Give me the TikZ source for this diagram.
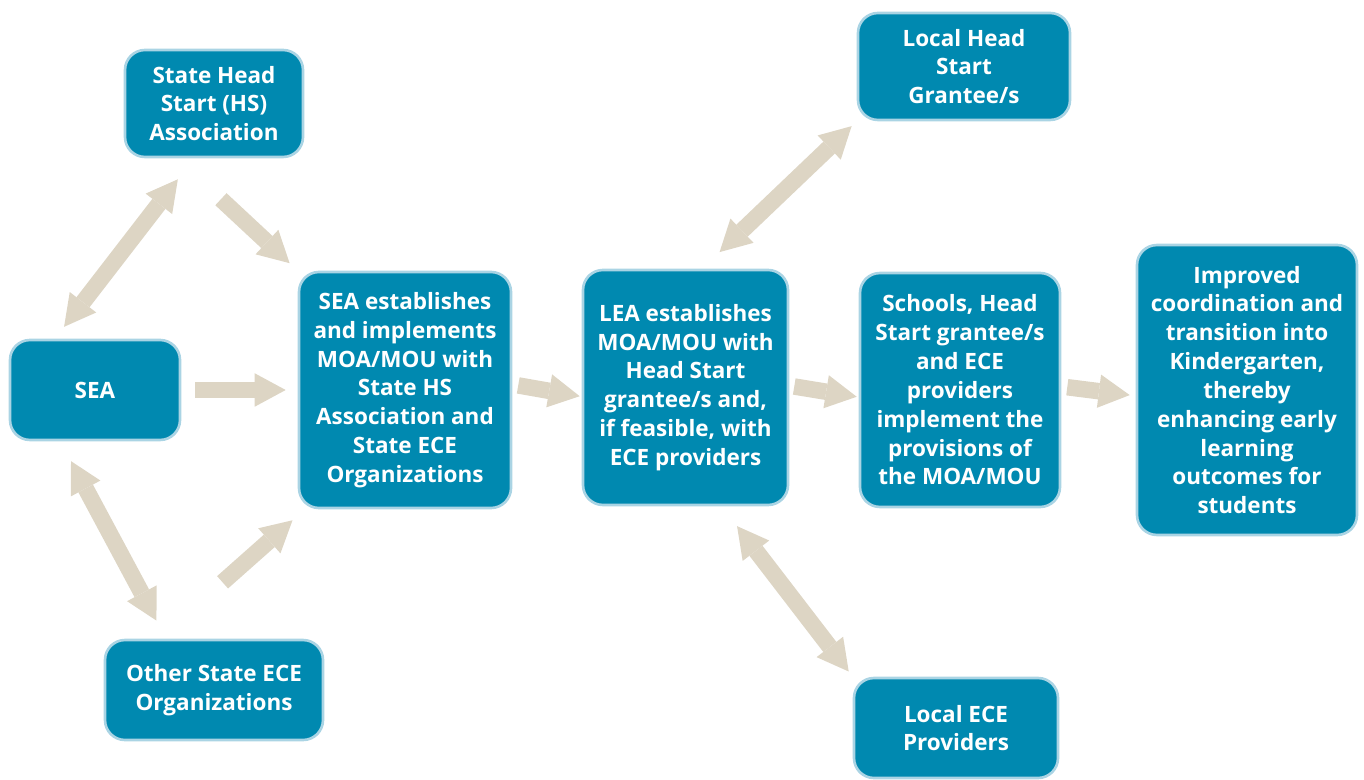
\documentclass[tikz,border=0pt]{standalone}
\usepackage{fontspec}
\setmainfont{Open Sans}
\usetikzlibrary{arrows.meta}

\definecolor{boxblue}{RGB}{0,137,176}
\definecolor{boxedge}{RGB}{170,212,228}
\definecolor{beige}{RGB}{221,213,196}

\tikzset{
  box/.style={rectangle, rounded corners=0.4cm, fill=boxblue, draw=boxedge,
    line width=1.5pt, text=white, align=center, inner sep=2pt,
    font=\bfseries\fontsize{12.8}{16.4}\selectfont},
  flow/.style={draw=beige, line width=0.33cm, -{Triangle[width=0.67cm, length=0.62cm, line width=0pt]}},
  both/.style={draw=beige, line width=0.33cm,
    {Triangle[width=0.67cm, length=0.62cm, line width=0pt]}-{Triangle[width=0.67cm, length=0.62cm, line width=0pt]}}
}

\begin{document}
\begin{tikzpicture}
\useasboundingbox (0,0) rectangle (27.28,15.58);

\node[box, minimum width=3.56cm, minimum height=2.14cm] (hsa) at (4.28,13.51) {State Head\\Start (HS)\\Association};
\node[box, minimum width=3.40cm, minimum height=2.00cm] (sea) at (1.90,7.78) {SEA};
\node[box, minimum width=4.36cm, minimum height=2.00cm] (oso) at (4.28,1.78) {Other State ECE\\Organizations};
\node[box, minimum width=4.24cm, minimum height=4.72cm] (seamoa) at (8.10,7.78) {SEA establishes\\and implements\\MOA/MOU with\\State HS\\Association and\\State ECE\\Organizations};
\node[box, minimum width=4.10cm, minimum height=4.70cm] (leamoa) at (13.71,7.83) {LEA establishes\\MOA/MOU with\\Head Start\\grantee/s and,\\if feasible, with\\ECE providers};
\node[box, minimum width=4.24cm, minimum height=2.14cm] (lhs) at (19.28,14.25) {Local Head\\Start\\Grantee/s};
\node[box, minimum width=4.00cm, minimum height=4.68cm] (sch) at (19.20,7.78) {Schools, Head\\Start grantee/s\\and ECE\\providers\\implement the\\provisions of\\the MOA/MOU};
\node[box, minimum width=4.40cm, minimum height=5.80cm] (imp) at (24.94,7.78) {Improved\\coordination and\\transition into\\Kindergarten,\\thereby\\enhancing early\\learning\\outcomes for\\students};
\node[box, minimum width=4.08cm, minimum height=2.00cm] (lece) at (19.12,1.02) {Local ECE\\Providers};

% state level
\draw[both, shorten <=0.30cm, shorten >=0.53cm] (sea.128) -- (hsa.-110);
\draw[both, shorten <=0.45cm, shorten >=0.41cm] (sea.-124) -- (oso.133.5);
\draw[flow, shorten <=1.20cm, shorten >=0.22cm] (hsa.-124) -- (seamoa.north west);
\draw[flow, shorten <=0.28cm, shorten >=0.24cm] (sea.east) -- (seamoa.west);
\draw[flow, shorten <=1.70cm, shorten >=0.33cm] (oso.137.7) -- (seamoa.-130.3);

% local level
\draw[flow, shorten <=0.12cm, shorten >=0.04cm] (seamoa.3) -- (leamoa.185);
\draw[flow, shorten <=0.10cm, shorten >=0.04cm] (leamoa.1) -- (sch.184);
\draw[flow, shorten <=0.12cm, shorten >=0.12cm] (sch.2) -- (imp.183.5);
\draw[both, shorten <=0.48cm, shorten >=0.14cm] (leamoa.82.5) -- (lhs.south west);
\draw[both, shorten <=0.50cm, shorten >=0.13cm] (leamoa.-73.2) -- (lece.north west);

\end{tikzpicture}
\end{document}
